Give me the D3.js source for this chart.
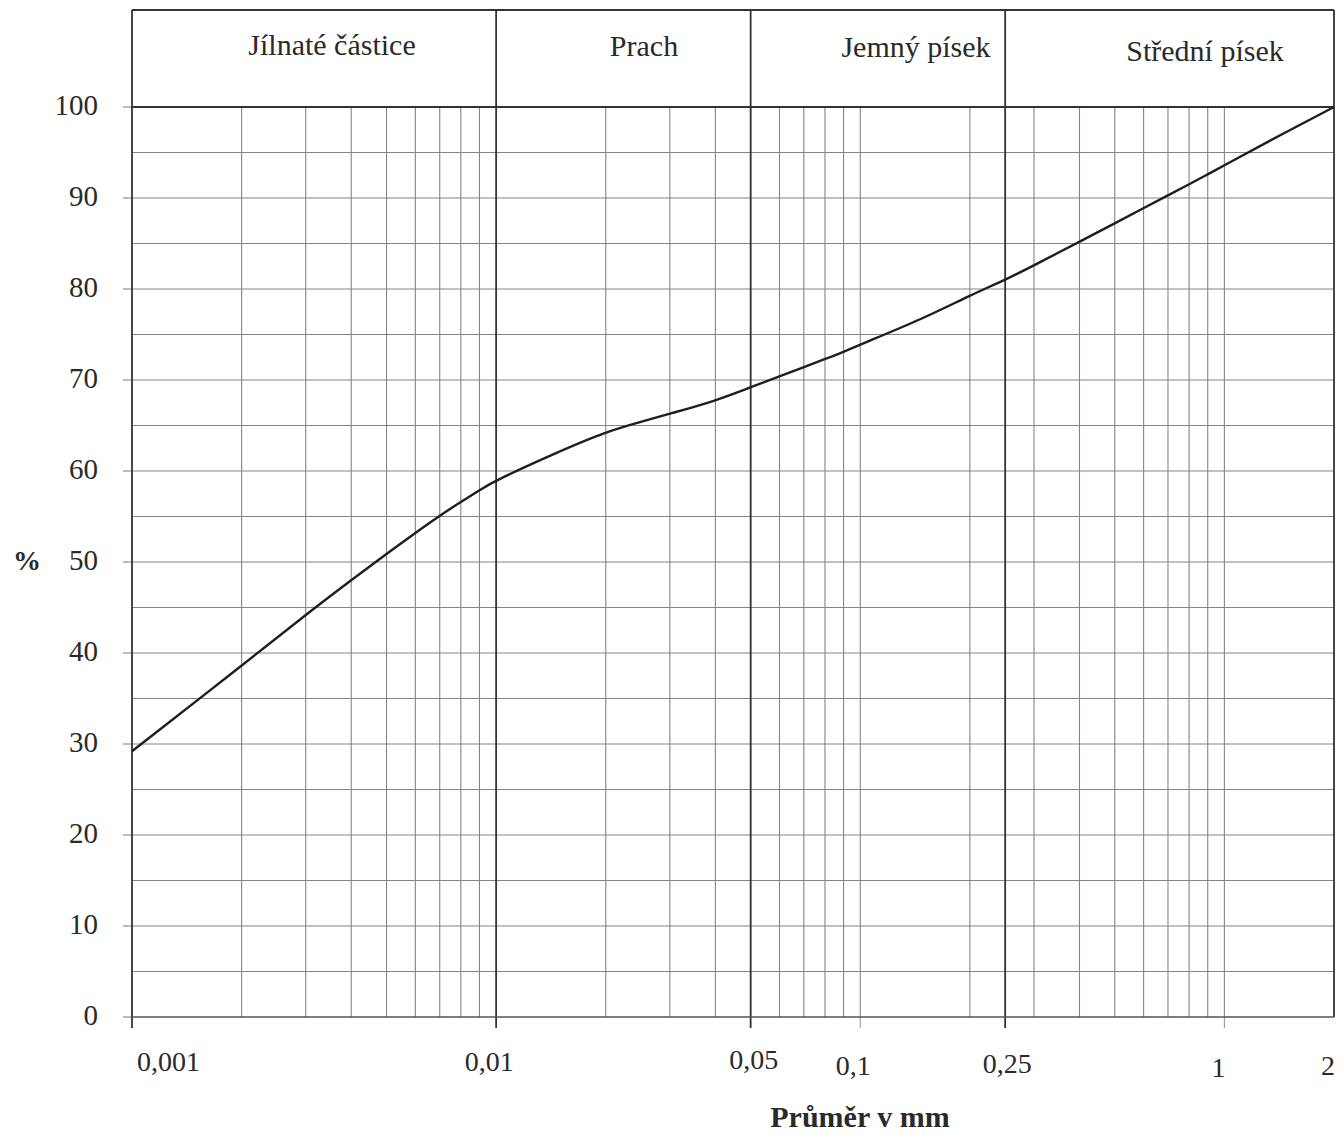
<!DOCTYPE html>
<html>
<head>
<meta charset="utf-8">
<script src="https://cdn.jsdelivr.net/npm/d3@7/dist/d3.min.js"></script>
<style>
  html, body { margin: 0; padding: 0; background: #ffffff; }
  svg { display: block; }
  text { font-family: "Liberation Serif", "Times New Roman", serif; fill: #2a2a2a; }
</style>
</head>
<body>
<svg id="chart" width="1342" height="1137"></svg>
<script>
// ---- data ----
const diameters = [0.001, 0.002, 0.003, 0.004, 0.005, 0.006, 0.007, 0.008, 0.009, 0.01,
                   0.015, 0.02, 0.025, 0.03, 0.04, 0.05, 0.06, 0.07, 0.08, 0.09, 0.1, 0.15, 0.2, 0.25,
                   0.3, 0.4, 0.5, 0.6, 0.7, 0.8, 0.9, 1, 1.5, 2];
const percents  = [29.2, 38.6, 44.2, 48.0, 50.9, 53.2, 55.1, 56.6, 57.9, 59.0,
                   62.2, 64.3, 65.4, 66.3, 67.7, 69.2, 70.4, 71.4, 72.3, 73.1, 73.9, 76.8, 79.3, 81.0,
                   82.6, 85.2, 87.2, 88.9, 90.3, 91.5, 92.6, 93.6, 97.4, 100];
const yTickValues = [0, 10, 20, 30, 40, 50, 60, 70, 80, 90, 100];
const xTickValues = [0.001, 0.01, 0.05, 0.1, 0.25, 1, 2];
const xTickLabels = ["0,001", "0,01", "0,05", "0,1", "0,25", "1", "2"];
const zoneBounds = [0.001, 0.01, 0.05, 0.25, 2];
const zoneNames = ["Jílnaté částice", "Prach", "Jemný písek", "Střední písek"];
const xTitle = "Průměr v mm";
const yTitle = "%";

// ---- layout ----
const pLeft = 132, pRight = 1334, pTop = 107, pBottom = 1017, headerTop = 10;
const svg = d3.select("#chart");

const x = d3.scaleLog().domain([0.001, 2]).range([pLeft, pRight]);
const y = d3.scaleLinear().domain([0, 100]).range([pBottom, pTop]);

// minor vertical grid lines
const minorX = x.ticks().filter(v => v > 0.001 * 1.0001 && v < 2 * 0.9999 && Math.abs(v - 0.01) > 1e-9);
svg.append("g").selectAll("line").data(minorX).join("line")
  .attr("x1", d => x(d)).attr("x2", d => x(d))
  .attr("y1", pTop).attr("y2", pBottom)
  .attr("stroke", "#858585").attr("stroke-width", 1.1);

// horizontal grid lines every 5 %
const hGrid = d3.range(5, 100, 5);
svg.append("g").selectAll("line").data(hGrid).join("line")
  .attr("x1", pLeft).attr("x2", pRight)
  .attr("y1", d => y(d)).attr("y2", d => y(d))
  .attr("stroke", "#858585").attr("stroke-width", 1.1);

// y ticks (left of axis)
svg.append("g").selectAll("line").data(yTickValues).join("line")
  .attr("x1", pLeft - 9).attr("x2", pLeft)
  .attr("y1", d => y(d)).attr("y2", d => y(d))
  .attr("stroke", "#858585").attr("stroke-width", 1.1);

// x ticks (below axis)
svg.append("g").selectAll("line").data(xTickValues.filter(v => v < 2)).join("line")
  .attr("x1", d => x(d)).attr("x2", d => x(d))
  .attr("y1", pBottom).attr("y2", pBottom + 11)
  .attr("stroke", d => (d === 0.1 || d === 1) ? "#9a9a9a" : "#333")
  .attr("stroke-width", d => (d === 0.1 || d === 1) ? 1.1 : 1.8);

// zone boundaries (major vertical lines) through header and plot
svg.append("g").selectAll("line").data(zoneBounds).join("line")
  .attr("x1", d => x(d)).attr("x2", d => x(d))
  .attr("y1", headerTop).attr("y2", pBottom)
  .attr("stroke", "#333").attr("stroke-width", 1.8);

// header top, 100 line and 0 line
svg.append("line").attr("x1", pLeft).attr("x2", pRight).attr("y1", headerTop).attr("y2", headerTop)
  .attr("stroke", "#333").attr("stroke-width", 1.8);
svg.append("line").attr("x1", pLeft).attr("x2", pRight).attr("y1", y(100)).attr("y2", y(100))
  .attr("stroke", "#333").attr("stroke-width", 1.8);
svg.append("line").attr("x1", pLeft).attr("x2", pRight).attr("y1", y(0)).attr("y2", y(0))
  .attr("stroke", "#555").attr("stroke-width", 1.6);

// zone names
const zones = zoneNames.map((n, i) => ({ name: n, a: zoneBounds[i], b: zoneBounds[i + 1] }));
const zoneCenters = [332, 644, 916, 1205];
const zoneBaseline = [55, 56, 57, 61];
svg.append("g").selectAll("text").data(zones).join("text")
  .attr("x", (d, i) => zoneCenters[i])
  .attr("y", (d, i) => zoneBaseline[i])
  .attr("text-anchor", "middle")
  .attr("font-size", 30)
  .text(d => d.name);

// y tick labels
svg.append("g").selectAll("text").data(yTickValues).join("text")
  .attr("x", 98).attr("y", d => y(d) - 2)
  .attr("dy", "0.35em")
  .attr("text-anchor", "end")
  .attr("font-size", 29)
  .text(d => d);

// x tick labels
const xLabelDx = [5, -7, 3, -7, 2, -6, -6];
const xLabelY = [1071, 1071, 1069, 1075, 1073, 1077, 1075];
svg.append("g").selectAll("text").data(xTickValues).join("text")
  .attr("x", (d, i) => x(d) + xLabelDx[i])
  .attr("y", (d, i) => xLabelY[i])
  .attr("text-anchor", (d, i) => i === 0 ? "start" : "middle")
  .attr("font-size", 28)
  .text((d, i) => xTickLabels[i]);

// axis titles
svg.append("text").attr("x", 860).attr("y", 1127).attr("text-anchor", "middle")
  .attr("font-size", 30).attr("font-weight", "bold").text(xTitle);
svg.append("text").attr("x", 27).attr("y", 570).attr("text-anchor", "middle")
  .attr("font-size", 28).attr("font-weight", "bold").text(yTitle);

// curve
const pts = diameters.map((d, i) => [d, percents[i]]);
const line = d3.line().x(d => x(d[0])).y(d => y(d[1])).curve(d3.curveBasis);
svg.append("path").datum(pts).attr("d", line)
  .attr("fill", "none").attr("stroke", "#1e1e1e").attr("stroke-width", 2.4)
  .attr("stroke-linejoin", "round");
</script>
</body>
</html>
